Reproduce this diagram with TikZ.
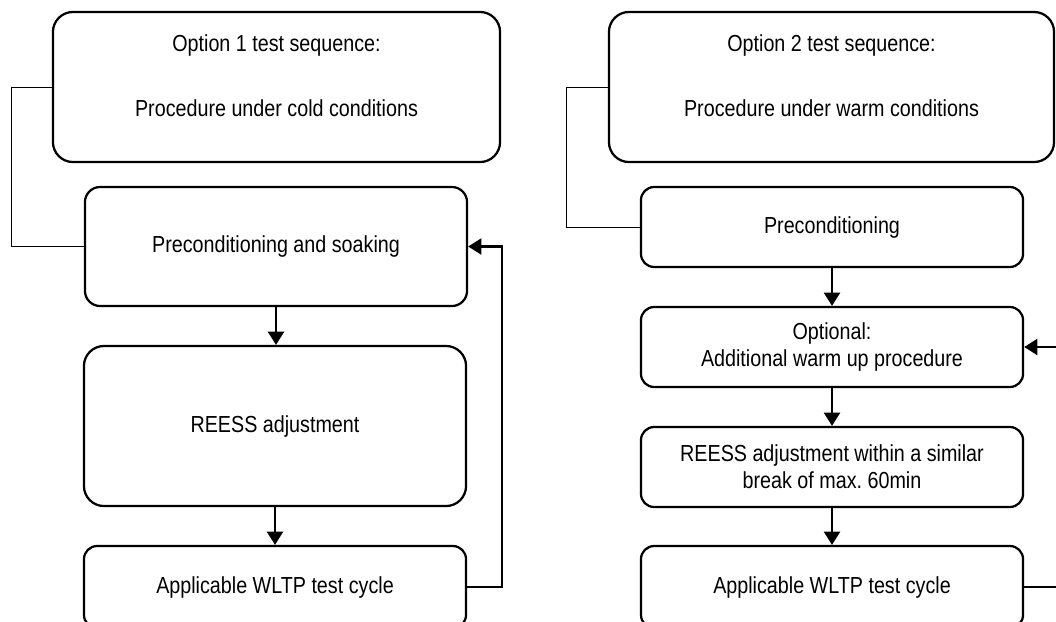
\documentclass[tikz,border=0pt]{standalone}
\usepackage{fontspec}
\setmainfont{Liberation Sans}[FakeStretch=0.85]
\usetikzlibrary{arrows.meta}
\frenchspacing

\begin{document}
\begin{tikzpicture}[x=0.025cm,y=-0.025cm,
  font=\fontsize{16.5pt}{19pt}\selectfont,
  stepbox/.style={draw,line width=1.6pt,rounded corners=0.33cm,minimum width=9.55cm,minimum height=2cm,align=center,inner sep=0pt},
  headbox/.style={stepbox,rounded corners=0.5cm,minimum height=3.75cm},
  flow/.style={line width=1.6pt,-{Triangle[width=0.4cm,length=0.33cm]}},
  link/.style={line width=0.7pt}]

\useasboundingbox (0,0) rectangle (1056,621);
\clip (0,0) rectangle (1056,621);

% option 1
\node[headbox,minimum width=11.175cm] (opt1) at (276.5,87) {};
\node[anchor=base] (opt1a) at (276.5,51.7) {Option 1 test sequence:};
\node[anchor=base] (opt1b) at (276.5,116.7) {Procedure under cold conditions};

\node[stepbox,minimum height=2.975cm,rounded corners=0.38cm] (soak) at (276,246.5) {Preconditioning and soaking};
\node[stepbox,minimum height=4cm,rounded corners=0.5cm] (reess1) at (275,426) {REESS adjustment};
\node[stepbox,minimum height=2.05cm] (wltp1) at (275,587) {Applicable WLTP test cycle};

\draw[link] (opt1.west) -- ++(-40,0) |- (soak.west);
\draw[flow] (soak.south) -- (soak.south |- reess1.north);
\draw[flow] (reess1.south) -- (reess1.south |- wltp1.north);
\draw[flow] (wltp1.east) -- ++(35,0) |- (soak.east);

% option 2
\node[headbox,minimum width=11.125cm] (opt2) at (831.5,87) {};
\node[anchor=base] (opt2a) at (831.5,51.7) {Option 2 test sequence:};
\node[anchor=base] (opt2b) at (831.5,116.7) {Procedure under warm conditions};

\node[stepbox] (precon) at (832,227) {Preconditioning};
\node[stepbox] (warmup) at (832,347) {Optional:\\Additional warm up procedure};
\node[stepbox] (reess2) at (832,467) {REESS adjustment within a similar\\break of max. 60min};
\node[stepbox,minimum height=2.05cm] (wltp2) at (832,587) {Applicable WLTP test cycle};

\draw[link] (opt2.west) -- ++(-41,0) |- (precon.west);
\draw[flow] (precon) -- (warmup);
\draw[flow] (warmup) -- (reess2);
\draw[flow] (reess2) -- (wltp2);
\draw[flow] (wltp2.east) -- ++(60,0) |- (warmup.east);

\end{tikzpicture}
\end{document}
